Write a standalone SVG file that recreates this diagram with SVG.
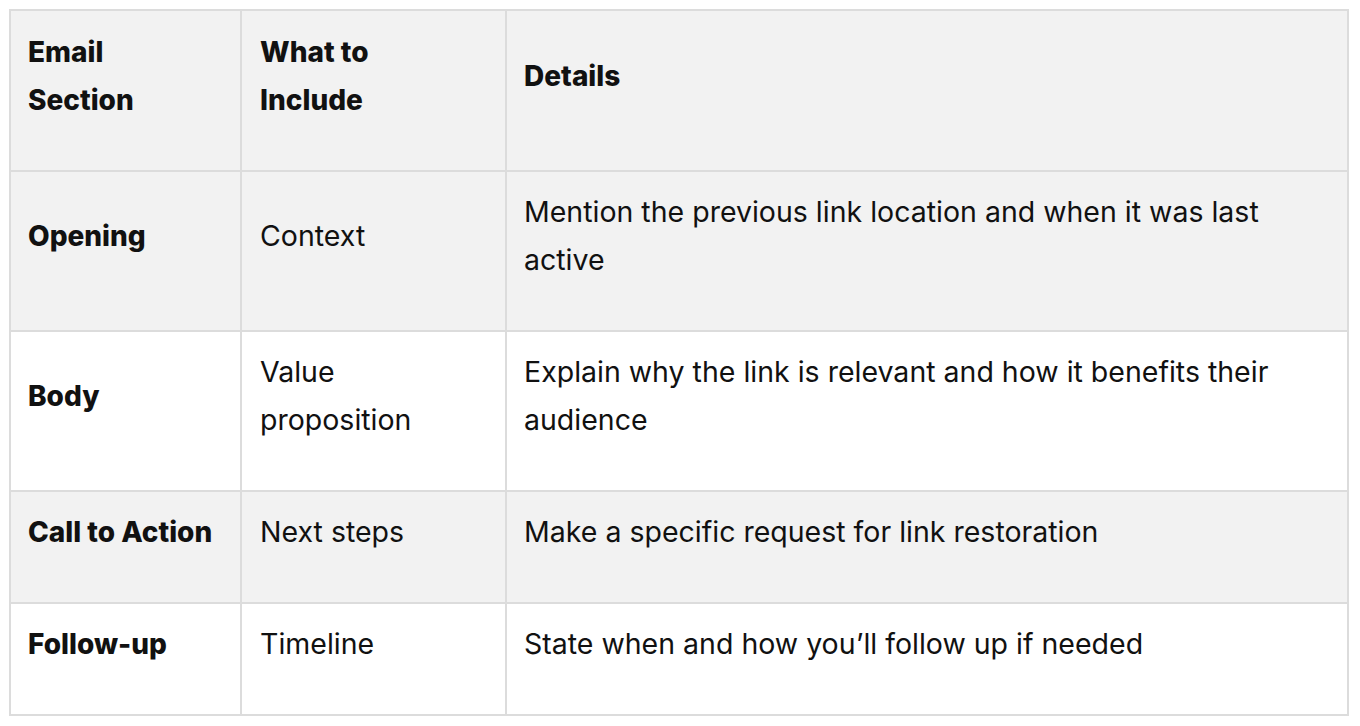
<svg xmlns="http://www.w3.org/2000/svg" width="1360" height="726" viewBox="0 0 1360 726">
<style>
.t{font-family:Inter,"Noto Sans",sans-serif;font-size:28.5px;fill:#111}
.b{font-weight:800;font-size:28px}
.g{fill:#f2f2f2}
.l{stroke:#dcdcdc;stroke-width:2;fill:none}
</style>
<rect width="1360" height="726" fill="#fff"/>
<g id="rows">
<rect class="g" x="10" y="10" width="1338" height="161"/>
<rect class="g" x="10" y="171" width="1338" height="160"/>
<rect class="g" x="10" y="491" width="1338" height="112"/>
</g>
<g id="grid">
<rect class="l" x="10" y="10" width="1338" height="705"/>
<path class="l" d="M241 10V715M506 10V715M10 171H1348M10 331H1348M10 491H1348M10 603H1348"/>
</g>
<g id="header">
<text class="t b" x="28" y="62">Email</text><text class="t b" x="28" y="110">Section</text>
<text class="t b" x="260" y="62">What to</text><text class="t b" x="260" y="110">Include</text>
<text class="t b" x="524" y="86">Details</text>
</g>
<g id="row1">
<text class="t b" x="28" y="246">Opening</text>
<text class="t" x="260" y="246">Context</text>
<text class="t" x="524" y="222">Mention the previous link location and when it was last</text>
<text class="t" x="524" y="270">active</text>
</g>
<g id="row2">
<text class="t b" x="28" y="406">Body</text>
<text class="t" x="260" y="382">Value</text><text class="t" x="260" y="430">proposition</text>
<text class="t" x="524" y="382">Explain why the link is relevant and how it benefits their</text>
<text class="t" x="524" y="430">audience</text>
</g>
<g id="row3">
<text class="t b" x="28" y="542">Call to Action</text>
<text class="t" x="260" y="542">Next steps</text>
<text class="t" x="524" y="542">Make a specific request for link restoration</text>
</g>
<g id="row4">
<text class="t b" x="28" y="654">Follow-up</text>
<text class="t" x="260" y="654">Timeline</text>
<text class="t" x="524" y="654">State when and how you’ll follow up if needed</text>
</g>
</svg>
